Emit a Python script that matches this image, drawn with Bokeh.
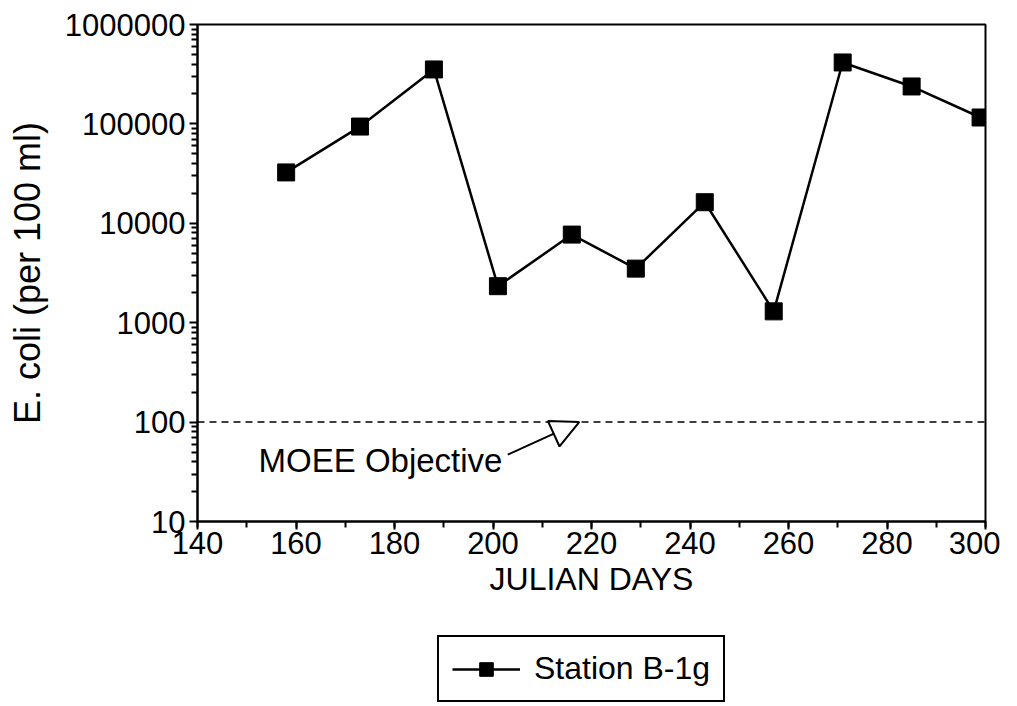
from bokeh.plotting import figure
from bokeh.layouts import column
from bokeh.models import (ColumnDataSource, Span, Label, Arrow, NormalHead, Legend, LegendItem,
                          FixedTicker, SingleIntervalTicker, BasicTickFormatter)
from bokeh.embed import file_html
from bokeh.resources import INLINE

# ---- data ----
days = [158, 173, 188, 201, 216, 229, 243, 257, 271, 285, 299]
ecoli = [32500, 94000, 353000, 2330, 7700, 3500, 16300, 1300, 415000, 238000, 116000]
series_name = "Station B-1g"
objective_value = 100
objective_label = "MOEE Objective"
x_label = "JULIAN DAYS"
y_label = "E. coli (per 100 ml)"
y_major_ticks = [10, 100, 1000, 10000, 100000, 1000000]

FONT = "Liberation Sans"

p = figure(width=1000, height=620, x_range=(140, 300), y_range=(10, 1000000),
           y_axis_type="log", output_backend="svg", toolbar_location=None,
           min_border_left=197, min_border_right=15, min_border_top=24, min_border_bottom=99)
p.background_fill_color = "white"
p.border_fill_color = "white"
p.outline_line_color = "black"
p.outline_line_width = 2
p.outline_line_alpha = 1
p.xgrid.visible = False
p.ygrid.visible = False

src = ColumnDataSource(dict(x=days, y=ecoli))
ln = p.line("x", "y", source=src, line_color="black", line_width=2.5)
sq = p.scatter("x", "y", source=src, marker="square", size=17,
               fill_color="black", line_color="black")

# objective line
p.add_layout(Span(location=objective_value, dimension="width", line_color="black",
                  line_width=1.5, line_dash="7 5"))
p.add_layout(Label(x=152.4, y=41.5, text=objective_label, text_font=FONT,
                   text_font_size="33px", text_baseline="middle", text_color="black"))
p.add_layout(Arrow(x_start=203, y_start=47, x_end=217.5, y_end=100,
                   line_color="black", line_width=2,
                   end=NormalHead(size=28, fill_color="white", line_color="black", line_width=2)))

# axes
p.xaxis.ticker = SingleIntervalTicker(interval=20, num_minor_ticks=2)
y_minor = [k * t for t in y_major_ticks[:-1] for k in range(2, 10)]
p.yaxis.ticker = FixedTicker(ticks=y_major_ticks, minor_ticks=y_minor)
p.yaxis.formatter = BasicTickFormatter(use_scientific=False)
for ax in (p.xaxis[0], p.yaxis[0]):
    ax.axis_line_width = 2
    ax.axis_line_color = "black"
    ax.major_tick_in = 0
    ax.major_tick_out = 8
    ax.minor_tick_in = 0
    ax.minor_tick_out = 6
    ax.major_tick_line_width = 2
    ax.major_tick_line_color = "black"
    ax.minor_tick_line_width = 2
    ax.minor_tick_line_color = "black"
    ax.major_label_text_font = FONT
    ax.major_label_text_font_size = "31px"
    ax.major_label_text_color = "black"
    ax.axis_label_text_font = FONT
    ax.axis_label_text_font_size = "32px"
    ax.axis_label_text_font_style = "normal"
    ax.axis_label_text_color = "black"
p.yaxis.axis_label_text_font_size = "36px"
p.xaxis.axis_label = x_label
p.yaxis.axis_label = y_label
p.xaxis.major_label_standoff = 2
p.xaxis.axis_label_standoff = 4
p.yaxis.major_label_standoff = 4
p.yaxis.axis_label_standoff = 14

# legend panel below the chart (series drawn out of its view range, so only the legend shows)
p2 = figure(width=1000, height=84, x_range=(0, 1), y_range=(0, 1),
            output_backend="svg", toolbar_location=None,
            min_border_left=0, min_border_right=0, min_border_top=0, min_border_bottom=0)
p2.axis.visible = False
p2.grid.visible = False
p2.outline_line_color = None
p2.background_fill_color = "white"
p2.border_fill_color = "white"
src2 = ColumnDataSource(dict(x=days, y=ecoli))
l2 = p2.line("x", "y", source=src2, line_color="black", line_width=2.5)
s2 = p2.scatter("x", "y", source=src2, marker="square", size=12,
                fill_color="black", line_color="black")
legend = Legend(items=[LegendItem(label=series_name, renderers=[l2, s2])],
                location=(240, 2), orientation="horizontal",
                label_text_font=FONT, label_text_font_size="32px", label_text_color="black",
                border_line_color="black", border_line_width=2, border_line_alpha=1,
                glyph_width=68, glyph_height=34, padding=13, margin=0, spacing=0,
                label_standoff=14, label_height=34)
p2.add_layout(legend, "center")

open("out.html", "w").write(file_html(column(p, p2, spacing=0), INLINE))
